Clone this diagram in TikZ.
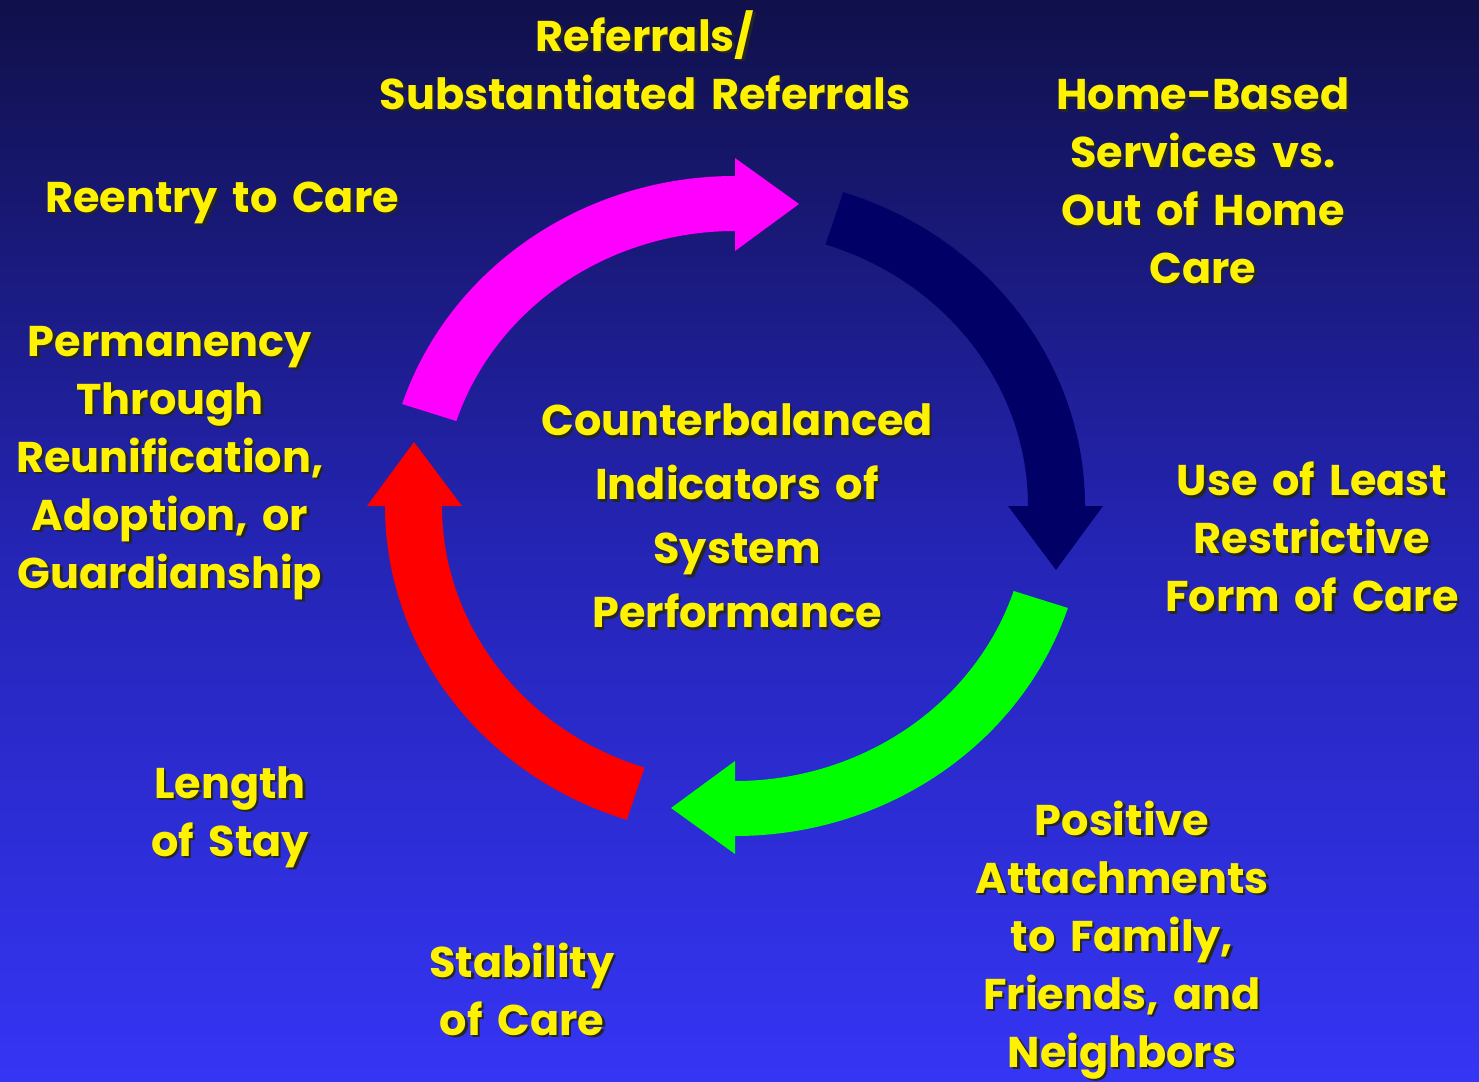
\documentclass[tikz,border=0pt]{standalone}
\usepackage{fontspec}
\setmainfont{Poppins}[WordSpace=1.6]
\usetikzlibrary{calc}

\definecolor{bgtop}{HTML}{10104A}
\definecolor{bgmid}{HTML}{2424B4}
\definecolor{bgbot}{HTML}{3535F5}
\definecolor{magarrow}{HTML}{FF00FF}
\definecolor{navyarrow}{HTML}{000066}
\definecolor{greenarrow}{HTML}{00FF00}
\definecolor{redarrow}{HTML}{FF0000}

\tikzset{
  lbl/.style={text=yellow, align=center, inner sep=0pt,
    font=\bfseries\fontsize{21.5}{29}\selectfont},
  lblshadow/.style={lbl, text=black!85, xshift=1.2pt, yshift=-1.2pt}
}
% yellow text with a dark drop shadow
\newcommand\slidelabel[3]{%
  \node (#1-sh) at (#2) [lblshadow] {#3};
  \node (#1)    at (#2) [lbl] {#3};}

\begin{document}
\begin{tikzpicture}[x=0.5pt,y=0.5pt]
  \useasboundingbox (0,0) rectangle (1479,-1082);
  \shade[top color=bgtop, bottom color=bgbot, middle color=bgmid]
    (0,0) rectangle (1479,-1082);

  % the four curved arrows, clockwise
  \coordinate (c) at (735,-506);
  \foreach \col/\a in {magarrow/90, navyarrow/0, greenarrow/270, redarrow/180}
    \fill[\col] ($(c)+(\a+72:350 and 330)$)
      arc[start angle=\a+72, end angle=\a, x radius=350, y radius=330]
      -- ($(c)+(\a:368 and 348)$)
      -- ($(c)+(\a:321 and 302)+(\a-90:64)$)
      -- ($(c)+(\a:273 and 255)$)
      -- ($(c)+(\a:293 and 275)$)
      arc[start angle=\a, end angle=\a+72, x radius=293, y radius=275]
      -- cycle;

  \slidelabel{referrals}{645,-60}{Referrals/\\Substantiated Referrals}
  \slidelabel{homebased}{1203,-181}{Home-Based\\Services vs.\\Out of Home\\Care}
  \slidelabel{reentry}{222,-203}{Reentry to Care}
  \slidelabel{permanency}{170,-463}{Permanency\\Through\\Reunification,\\Adoption, or\\Guardianship}
  \slidelabel{indicators}{737,-516}{Counterbalanced\\[3pt]Indicators of\\[3pt]System\\[3pt]Performance}
  \slidelabel{restrictive}{1312,-537}{Use of Least\\Restrictive\\Form of Care}
  \slidelabel{attachments}{1122,-940}{Positive\\Attachments\\to Family,\\Friends, and\\Neighbors}
  \slidelabel{stay}{230,-817}{Length\\of Stay}
  \slidelabel{stability}{522,-989}{Stability\\of Care}
\end{tikzpicture}
\end{document}
